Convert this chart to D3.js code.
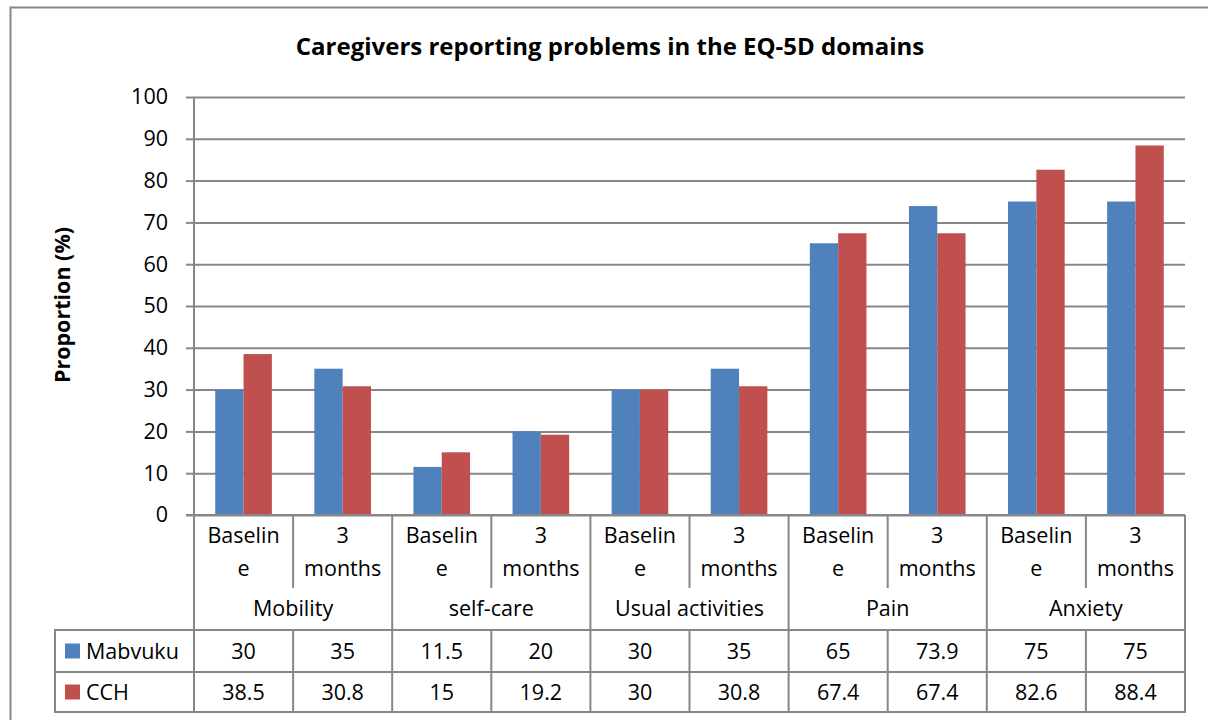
<!DOCTYPE html>
<html><head><meta charset="utf-8">
<script src="https://cdn.jsdelivr.net/npm/d3@7"></script>
<style>
html,body{margin:0;padding:0;background:#fff;}
svg{display:block;}
text{font-family:"Open Sans","Noto Sans",sans-serif;fill:#000;}
</style></head>
<body>
<svg id="chart" width="1208" height="720"></svg>
<script>
const domains = ["Mobility","self-care","Usual activities","Pain","Anxiety"];
const timepoints = ["Baseline","3 months"];
const timeLabelLines = [["Baselin","e"],["3","months"]];
const seriesNames = ["Mabvuku","CCH"];
const mabvuku = [30,35,11.5,20,30,35,65,73.9,75,75];
const cch = [38.5,30.8,15,19.2,30,30.8,67.4,67.4,82.6,88.4];
const yTicks = [0,10,20,30,40,50,60,70,80,90,100];
const colors = ["#4F81BD","#C0504D"];
const title = "Caregivers reporting problems in the EQ-5D domains";
const yTitle = "Proportion (%)";

const svg = d3.select("#chart");
const gridColor = "#878787";
const L = 194, R = 1185, T = 97, B = 515;
const catRowBottom = 588, groupRowBottom = 630, row1Bottom = 672, row2Bottom = 712, tableLeft = 55;
const fs = 21.5;

// outer frame (cropped at right/bottom)
svg.append("path").attr("d","M10.5,740 V7.5 H1230").attr("fill","none").attr("stroke",gridColor).attr("stroke-width",2);

// categories
const cats = [];
domains.forEach((d,i)=>timepoints.forEach((t,j)=>cats.push({id:d+"|"+t,domain:d,tIdx:j,idx:cats.length})));
const x = d3.scaleBand().domain(cats.map(c=>c.id)).range([L,R]).paddingInner(0).paddingOuter(0);
const bw = x.bandwidth();
const xs = d3.scaleBand().domain(seriesNames).range([bw*0.75/3.5, bw - bw*0.75/3.5]).padding(0);
const y = d3.scaleLinear().domain([0,100]).range([B,T]);

// gridlines + ticks
const yAxis = d3.axisLeft(y).tickValues(yTicks).tickSize(8).tickSizeOuter(0);
const gy = svg.append("g").attr("transform",`translate(${L},0)`).call(yAxis);
gy.select(".domain").remove();
gy.attr("font-family",null).attr("font-size",null);
gy.selectAll(".tick line").attr("stroke",gridColor).attr("stroke-width",2);
gy.selectAll(".tick text").attr("x",-26).attr("font-size",fs).attr("fill","#000");
gy.selectAll(".tick").append("line").attr("x1",0).attr("x2",R-L).attr("stroke",gridColor).attr("stroke-width",2);

// y axis line
svg.append("line").attr("x1",L).attr("x2",L).attr("y1",T).attr("y2",B).attr("stroke",gridColor).attr("stroke-width",2);

// bars
const series = [mabvuku, cch];
series.forEach((vals,si)=>{
  svg.append("g").selectAll("rect").data(cats).join("rect")
    .attr("x",c=>x(c.id)+xs(seriesNames[si]))
    .attr("width",xs.bandwidth())
    .attr("y",c=>y(vals[c.idx]))
    .attr("height",c=>B - y(vals[c.idx]))
    .attr("fill",colors[si]);
});

// zero axis line redraw
svg.append("line").attr("x1",L-8).attr("x2",R).attr("y1",B).attr("y2",B).attr("stroke",gridColor).attr("stroke-width",2);

// table lines
const lines = svg.append("g").attr("stroke",gridColor).attr("stroke-width",2);
cats.forEach((c,i)=>{
  const xl = x(c.id);
  if(i===0 || c.tIdx===0){
    lines.append("line").attr("x1",xl).attr("x2",xl).attr("y1",B).attr("y2",row2Bottom);
  } else {
    lines.append("line").attr("x1",xl).attr("x2",xl).attr("y1",B).attr("y2",catRowBottom);
    lines.append("line").attr("x1",xl).attr("x2",xl).attr("y1",groupRowBottom).attr("y2",row2Bottom);
  }
});
lines.append("line").attr("x1",R).attr("x2",R).attr("y1",B).attr("y2",row2Bottom);
lines.append("line").attr("x1",tableLeft).attr("x2",tableLeft).attr("y1",groupRowBottom).attr("y2",row2Bottom);
[groupRowBottom,row1Bottom,row2Bottom].forEach(yy=>{
  lines.append("line").attr("x1",tableLeft-1).attr("x2",R+1).attr("y1",yy).attr("y2",yy);
});

// category labels
const catG = svg.append("g").attr("font-size",fs).attr("text-anchor","middle");
cats.forEach(c=>{
  const cx = x(c.id)+bw/2;
  timeLabelLines[c.tIdx].forEach((ln,k)=>{
    catG.append("text").attr("x",cx).attr("y",535+k*33).attr("dy","0.35em").text(ln);
  });
});
domains.forEach((d,i)=>{
  const cx = x(cats[i*2].id)+bw;
  catG.append("text").attr("x",cx).attr("y",608).attr("dy","0.35em").text(d);
});

// data rows
const rowYs = [651,692];
series.forEach((vals,si)=>{
  const g = svg.append("g").attr("font-size",fs);
  g.append("rect").attr("x",65).attr("y",rowYs[si]-7.5).attr("width",15).attr("height",15).attr("fill",colors[si]);
  g.append("text").attr("x",86).attr("y",rowYs[si]).attr("dy","0.35em").text(seriesNames[si]);
  cats.forEach(c=>{
    g.append("text").attr("x",x(c.id)+bw/2).attr("y",rowYs[si]).attr("dy","0.35em").attr("text-anchor","middle").text(vals[c.idx]);
  });
});

// title
svg.append("text").attr("x",610).attr("y",47).attr("dy","0.35em").attr("text-anchor","middle")
  .attr("font-size",24).attr("font-weight","bold").text(title);

// y title
svg.append("text").attr("transform",`translate(62,305) rotate(-90)`).attr("dy","0.35em").attr("text-anchor","middle")
  .attr("font-size",fs).attr("font-weight","bold").text(yTitle);
</script>
</body></html>
